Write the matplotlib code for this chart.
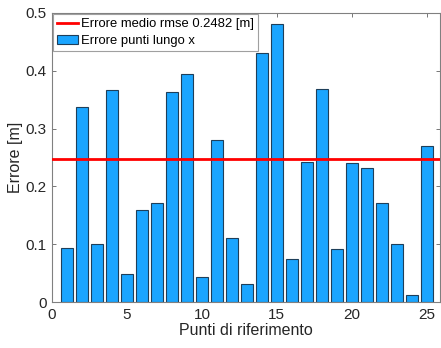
import matplotlib
matplotlib.use("Agg")
import matplotlib.pyplot as plt
import numpy as np

plt.rcParams['font.family'] = ['Liberation Sans', 'DejaVu Sans']

# Errore per ciascun punto di riferimento lungo x [m]
punti = np.arange(1, 26)
errori = [0.094, 0.338, 0.100, 0.367, 0.049, 0.159, 0.171, 0.364, 0.394, 0.043,
          0.281, 0.110, 0.032, 0.431, 0.481, 0.075, 0.242, 0.368, 0.092, 0.241,
          0.231, 0.171, 0.100, 0.013, 0.270]
rmse = 0.2482

xticks = [0, 5, 10, 15, 20, 25]
yticks = [0, 0.1, 0.2, 0.3, 0.4, 0.5]

fig = plt.figure(figsize=(4.41, 3.48), dpi=100)
ax = fig.add_axes([0.118, 0.132, 0.88, 0.831])

line = ax.axhline(rmse, color='#ff0000', linewidth=2, zorder=3,
                  label=f'Errore medio rmse {rmse} [m]')
bars = ax.bar(punti, errori, width=0.8, color='#1aa5ff', edgecolor='#1e3f5a',
              linewidth=0.8, zorder=2, label='Errore punti lungo x')

ax.set_xlim(0, 25.9)
ax.set_ylim(0, 0.5)
ax.set_xticks(xticks)
ax.set_yticks(yticks)
ax.set_yticklabels(['0', '0.1', '0.2', '0.3', '0.4', '0.5'])

for s in ax.spines.values():
    s.set_color('#808080')
    s.set_linewidth(0.8)
ax.tick_params(direction='in', top=True, right=True, length=3, width=0.6,
               color='#606060', labelsize=11, labelcolor='#262626', pad=4)

ax.set_xlabel('Punti di riferimento', fontsize=11.5, color='#262626', labelpad=1)
ax.set_ylabel('Errore [m]', fontsize=11.5, color='#262626', labelpad=2)

leg = ax.legend(handles=[line, bars], loc='upper left', fontsize=9.4,
                frameon=True, fancybox=False, borderaxespad=0.1,
                handlelength=1.6, handletextpad=0.2, borderpad=0.3,
                labelspacing=0.35, framealpha=1)
leg.get_frame().set_edgecolor('#a0a0a0')
leg.get_frame().set_linewidth(0.8)

fig.savefig('out.png', dpi=100)
